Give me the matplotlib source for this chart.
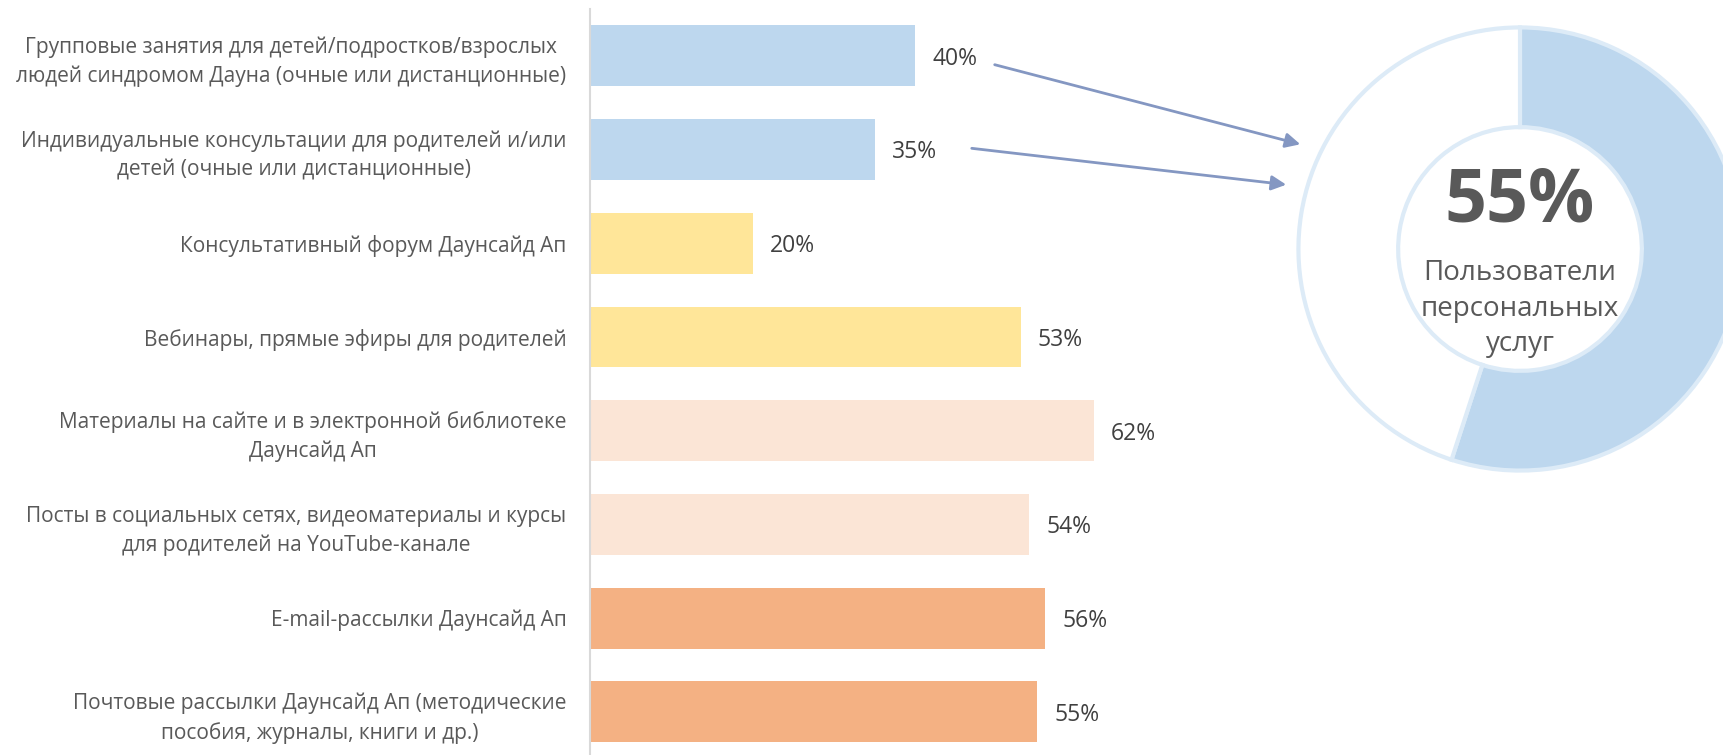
import matplotlib.pyplot as plt

plt.rcParams['font.family'] = ['Open Sans', 'DejaVu Sans']

# data
categories = [
    'Групповые занятия для детей/подростков/взрослых\nлюдей синдромом Дауна (очные или дистанционные)',
    'Индивидуальные консультации для родителей и/или\nдетей (очные или дистанционные)',
    'Консультативный форум Даунсайд Ап',
    'Вебинары, прямые эфиры для родителей',
    'Материалы на сайте и в электронной библиотеке\nДаунсайд Ап',
    'Посты в социальных сетях, видеоматериалы и курсы\nдля родителей на YouTube-канале',
    'E-mail-рассылки Даунсайд Ап',
    'Почтовые рассылки Даунсайд Ап (методические\nпособия, журналы, книги и др.)',
]
values = [40, 35, 20, 53, 62, 54, 56, 55]
bar_colors = ['#BDD7EE', '#BDD7EE', '#FFE699', '#FFE699',
              '#FBE5D6', '#FBE5D6', '#F4B183', '#F4B183']

donut_share = [55, 45]
donut_title = '55%'
donut_caption = 'Пользователи\nперсональных\nуслуг'

W, H = 1723, 755
fig = plt.figure(figsize=(W / 100, H / 100), dpi=100)

# bar chart axes (pixel layout from the reference)
ax = fig.add_axes([590 / W, 0, 813 / W, 1 - 9 / H])
ypos = list(range(len(values)))
ax.barh(ypos, values, height=0.65, color=bar_colors)
ax.set_xlim(0, 100)
ax.set_ylim(7.46, -0.5)
ax.set_yticks(ypos)
ax.set_yticklabels(categories, fontsize=15, color='#595959',
                   multialignment='center', linespacing=1.45)
ax.tick_params(axis='y', length=0, pad=17)
ax.set_xticks([])
for s in ['top', 'right', 'bottom']:
    ax.spines[s].set_visible(False)
ax.spines['left'].set_color('#D9D9D9')
ax.spines['left'].set_linewidth(1.5)

for y, v in zip(ypos, values):
    ax.text(v + 2.1, y + 0.03, f'{v}%', va='center', ha='left',
            fontsize=16.5, color='#404040')

# donut
R = 226
cx, cy = 1520, H - 249
dax = fig.add_axes([(cx - R) / W, (cy - R) / H, 2 * R / W, 2 * R / H])
dax.pie(donut_share, colors=['#BDD7EE', 'white'], startangle=90,
        counterclock=False, radius=1,
        wedgeprops=dict(width=0.45, edgecolor='#DDEBF7', linewidth=3))
dax.set_xlim(-1.02, 1.02)
dax.set_ylim(-1.02, 1.02)
dax.set_aspect('equal')
dax.text(0, 0.21, donut_title, ha='center', va='center', fontsize=53,
         fontweight='bold', color='#595959')
dax.text(0, -0.27, donut_caption, ha='center', va='center', fontsize=20,
         color='#595959', linespacing=1.36)

# arrows pointing from the first two bars to the donut
arrow_kw = dict(arrowstyle='-|>', color='#8497C2', lw=2, mutation_scale=22)
fig.add_artist(plt.matplotlib.patches.FancyArrowPatch(
    (992 / W, 1 - 64 / H), (1303 / W, 1 - 145 / H),
    transform=fig.transFigure, **arrow_kw))
fig.add_artist(plt.matplotlib.patches.FancyArrowPatch(
    (969 / W, 1 - 148 / H), (1289 / W, 1 - 185 / H),
    transform=fig.transFigure, **arrow_kw))

fig.savefig('out.png', dpi=100)
